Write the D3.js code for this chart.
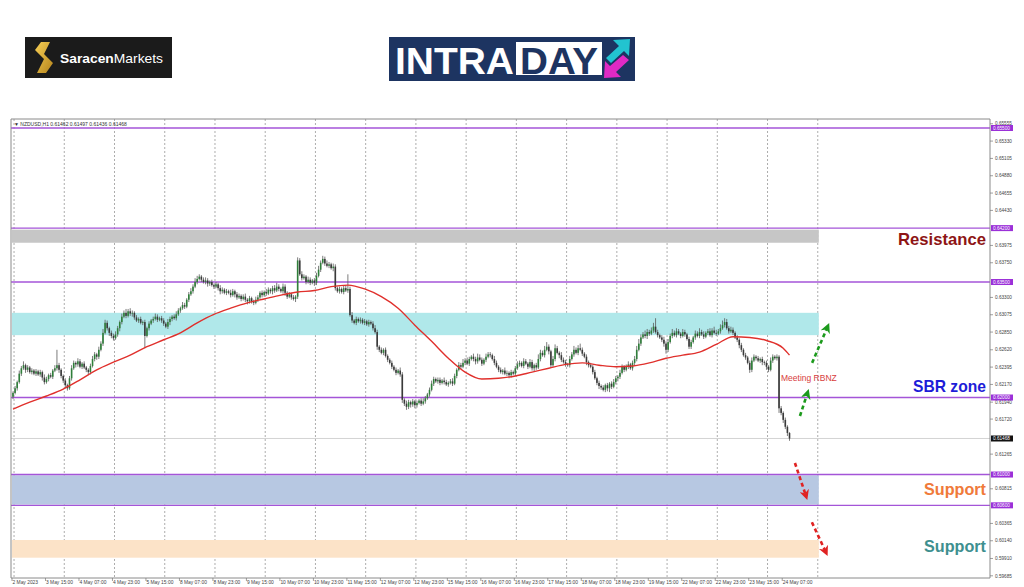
<!DOCTYPE html>
<head>
  <meta charset="utf-8">
  <script src="https://d3js.org/d3.v7.min.js"></script>
  <style>
    body { margin:0; background:#fff; }
    text { font-family: "Liberation Sans", Arial, sans-serif; }
  </style>
</head>
<body>
<svg width="1024" height="587"></svg>
<script>
// ---- data ----
var symbolInfo = "NZDUSD,H1  0.61462 0.61497 0.61436 0.61468";
var lastPrice = 0.61468;
var firstOpen = 0.6201;

var timeLabels = ["2 May 2023","3 May 15:00","4 May 07:00","4 May 23:00","5 May 15:00","8 May 07:00",
  "8 May 23:00","9 May 15:00","10 May 07:00","10 May 23:00","11 May 15:00","12 May 07:00",
  "12 May 23:00","15 May 15:00","16 May 07:00","16 May 23:00","17 May 15:00","18 May 07:00",
  "18 May 23:00","19 May 15:00","22 May 07:00","22 May 23:00","23 May 15:00","24 May 07:00"];

var priceTicks = [0.65555,0.65330,0.65105,0.64880,0.64655,0.64430,0.63975,0.63750,
  0.63300,0.63075,0.62850,0.62620,0.62395,0.62170,0.61940,0.61720,0.61265,
  0.60815,0.60365,0.60140,0.59910,0.59685];

var levels = [0.65500, 0.64200, 0.63500, 0.62000, 0.61000, 0.60600];

// hourly closes
var closes = [
  0.6206,0.6212,0.6220,0.6231,0.6238,0.6242,0.6236,0.6239,0.6233,0.6235,0.6231,0.6234,
  0.6230,0.6233,0.6226,0.6220,0.6224,0.6229,0.6227,0.6235,0.6238,0.6242,0.6236,0.6228,
  0.6222,0.6216,0.6212,0.6225,0.6238,0.6245,0.6243,0.6247,0.6240,0.6244,0.6239,0.6236,
  0.6233,0.6241,0.6250,0.6256,0.6253,0.6262,0.6270,0.6284,0.6297,0.6290,0.6284,0.6280,
  0.6277,0.6282,0.6290,0.6298,0.6305,0.6310,0.6306,0.6312,0.6309,0.6310,0.6304,0.6300,
  0.6302,0.6297,0.6298,0.6280,0.6290,0.6296,0.6300,0.6302,0.6305,0.6301,0.6303,0.6300,
  0.6296,0.6292,0.6298,0.6302,0.6305,0.6303,0.6308,0.6313,0.6316,0.6320,0.6318,0.6327,
  0.6334,0.6338,0.6344,0.6350,0.6354,0.6357,0.6353,0.6350,0.6352,0.6348,0.6350,0.6346,
  0.6344,0.6347,0.6342,0.6338,0.6340,0.6336,0.6338,0.6336,0.6333,0.6338,0.6334,0.6330,
  0.6332,0.6328,0.6331,0.6327,0.6325,0.6329,0.6324,0.6323,0.6327,0.6330,0.6336,0.6333,
  0.6337,0.6335,0.6340,0.6338,0.6342,0.6339,0.6344,0.6341,0.6338,0.6344,0.6336,0.6331,
  0.6334,0.6330,0.6328,0.6331,0.6378,0.6360,0.6355,0.6357,0.6350,0.6353,0.6349,0.6352,
  0.6349,0.6358,0.6366,0.6375,0.6380,0.6374,0.6371,0.6373,0.6368,0.6370,0.6342,0.6338,
  0.6341,0.6337,0.6342,0.6339,0.6341,0.6307,0.6300,0.6297,0.6302,0.6299,0.6301,0.6297,
  0.6299,0.6295,0.6298,0.6296,0.6290,0.6285,0.6266,0.6262,0.6258,0.6262,0.6254,0.6249,
  0.6245,0.6240,0.6236,0.6232,0.6235,0.6230,0.6197,0.6192,0.6188,0.6194,0.6191,0.6195,
  0.6190,0.6193,0.6196,0.6192,0.6195,0.6199,0.6204,0.6210,0.6218,0.6224,0.6221,0.6223,
  0.6219,0.6222,0.6220,0.6217,0.6219,0.6221,0.6218,0.6228,0.6236,0.6242,0.6240,0.6245,
  0.6248,0.6244,0.6250,0.6253,0.6250,0.6247,0.6252,0.6249,0.6244,0.6249,0.6253,0.6256,
  0.6255,0.6250,0.6245,0.6240,0.6236,0.6233,0.6235,0.6231,0.6232,0.6229,0.6233,0.6231,
  0.6238,0.6243,0.6245,0.6241,0.6247,0.6244,0.6240,0.6246,0.6238,0.6242,0.6239,0.6250,
  0.6258,0.6255,0.6262,0.6266,0.6260,0.6242,0.6250,0.6264,0.6258,0.6255,0.6249,0.6246,
  0.6243,0.6242,0.6250,0.6256,0.6262,0.6258,0.6264,0.6262,0.6257,0.6253,0.6246,0.6242,
  0.6240,0.6233,0.6225,0.6219,0.6215,0.6213,0.6210,0.6216,0.6212,0.6218,0.6214,0.6220,
  0.6225,0.6227,0.6232,0.6240,0.6236,0.6240,0.6243,0.6238,0.6245,0.6250,0.6262,0.6270,
  0.6278,0.6282,0.6280,0.6285,0.6283,0.6287,0.6292,0.6285,0.6281,0.6278,0.6275,0.6270,
  0.6262,0.6272,0.6280,0.6284,0.6281,0.6286,0.6283,0.6280,0.6285,0.6282,0.6276,0.6266,
  0.6272,0.6278,0.6283,0.6280,0.6285,0.6282,0.6279,0.6284,0.6286,0.6281,0.6287,0.6284,
  0.6283,0.6286,0.6290,0.6294,0.6298,0.6290,0.6286,0.6288,0.6284,0.6278,0.6275,0.6268,
  0.6262,0.6255,0.6252,0.6245,0.6236,0.6248,0.6253,0.6251,0.6248,0.6250,0.6246,0.6245,
  0.6240,0.6236,0.6248,0.6253,0.6251,0.6253,0.6186,0.6180,0.6171,0.6162,0.6154,0.61468
];

// upper / lower shadow length in pips
var wickUp = [
  2,3,2,4,3,5,2,3,2,3,2,3, 2,3,2,4,3,2,3,2,4,20,3,2, 2,3,2,3,4,3,2,4,3,2,3,2,
  2,3,4,3,2,4,3,5,4,3,2,3, 3,4,3,2,4,3,5,3,4,3,2,3, 2,3,2,3,2,3,2,3,4,3,2,3,
  3,2,4,3,2,3,4,3,2,4,3,2, 3,4,3,5,4,3,2,3,4,3,2,3, 2,3,2,4,3,2,3,2,4,3,2,3,
  3,2,3,4,2,3,2,3,4,3,2,3, 2,4,3,2,3,4,5,3,2,4,3,2, 3,2,3,2,4,3,4,3,2,4,3,2,
  3,4,5,3,4,3,4,3,2,4,3,2, 3,2,3,4,19,3,4,2,3,2,3,2, 3,2,3,2,3,4,3,2,3,2,3,2,
  2,3,2,3,2,4,3,2,4,3,2,3, 2,3,2,3,4,3,2,3,4,3,2,3, 3,2,4,3,2,3,4,3,2,4,3,5,
  3,4,3,2,4,3,5,4,3,2,4,3, 3,2,4,3,2,3,2,4,3,2,3,2, 3,4,3,2,4,3,2,4,3,2,3,6,
  4,3,5,6,3,2,4,5,3,2,4,3, 3,2,4,3,5,3,4,6,3,2,3,2, 3,2,3,2,3,2,3,2,3,2,3,4,
  3,2,4,3,2,3,4,2,3,4,5,6, 4,3,5,4,3,4,5,11,3,2,3,4, 3,4,3,5,3,4,3,2,4,3,2,3,
  3,2,4,3,5,3,4,2,3,4,3,5, 4,3,5,6,5,4,3,4,3,2,3,2, 3,2,3,2,3,4,3,2,3,2,3,2,
  3,2,4,3,2,3,2,3,2,3,2,1
];
var wickDn = [
  3,2,3,2,3,2,4,3,2,3,2,3, 2,3,4,3,2,3,2,3,2,3,4,3, 3,4,3,2,3,2,4,3,2,3,2,3,
  4,3,2,3,4,3,2,3,2,3,4,3, 3,2,3,4,3,2,3,2,3,4,3,2, 3,2,3,16,2,3,2,3,2,3,2,3,
  3,2,3,4,3,2,3,2,3,2,3,2, 3,2,3,2,3,2,3,2,3,4,3,2, 3,2,3,4,3,2,3,2,3,2,4,3,
  2,3,2,3,4,3,2,3,2,3,2,3, 2,3,2,3,4,3,2,3,2,3,4,3, 2,3,2,4,3,2,3,2,3,2,3,2,
  4,3,2,3,2,3,2,3,2,4,3,2, 3,2,3,2,3,2,3,2,3,2,3,2, 3,2,3,2,3,2,4,3,2,3,2,3,
  2,3,2,3,2,3,4,3,4,3,4,3, 4,3,2,3,2,3,2,3,2,3,2,3, 3,2,3,2,3,2,3,2,3,2,3,2,
  3,2,3,2,3,4,3,2,3,2,3,2, 3,2,3,2,3,2,3,2,3,4,3,2, 3,2,3,2,3,2,3,2,3,4,3,2,
  3,2,3,2,4,3,2,3,2,4,3,2, 3,2,3,2,3,2,3,2,3,2,4,3, 2,3,2,3,4,3,2,3,4,5,3,2,
  3,4,3,2,3,2,3,2,3,4,3,2, 3,2,3,4,3,2,3,2,3,2,3,4, 5,3,2,3,2,3,2,3,2,3,2,3,
  3,2,3,2,3,2,3,2,3,2,3,2, 3,2,3,2,3,2,3,2,3,2,3,4, 3,2,3,2,4,3,2,3,2,3,4,3,
  4,3,2,3,2,3,6,3,4,3,4,3
];

// moving average (read every 8 bars)
var maBars = [0,8,16,24,32,40,48,56,64,72,80,88,96,104,112,120,128,136,144,152,160,168,176,184,
  192,200,208,216,224,232,240,248,256,264,272,280,288,296,304,312,320,328,336,344,352,360,368,371];
var maValues = [0.6185,0.6194,0.6202,0.6211,0.6223,0.6236,0.6246,0.6255,0.6266,0.6275,0.6284,0.6297,
  0.6308,0.6316,0.6323,0.6328,0.6333,0.6337,0.6339,0.6344,0.6346,0.6341,0.6331,0.6316,
  0.6294,0.6273,0.6251,0.6233,0.6224,0.6225,0.6228,0.6233,0.6238,0.6243,0.6245,0.6242,
  0.6240,0.6241,0.6245,0.6251,0.6255,0.6259,0.6269,0.6279,0.6278,0.6274,0.6264,0.6255];

// shaded zones: [top, bottom, colour]
var zones = [
  [0.6418, 0.6401, "#c6c6c6"],
  [0.6310, 0.6281, "#b0e8ea"],
  [0.6099, 0.6061, "#b7c8e2"],
  [0.6015, 0.5992, "#fce3c8"]
];
var zoneEnd = 385;

// zone labels: [text, colour, baseline, width]
var notes = [
  ["Resistance", "#8e1515", 245, 88],
  ["SBR zone", "#1d1dd8", 392, 73],
  ["Support", "#f07a3a", 495, 62],
  ["Support", "#3e8f8f", 552, 62]
];

// dashed arrows [barFrom, priceFrom, barTo, priceTo, colour]
var arrows = [
  [376.0, 0.6176, 379.6, 0.6206, "#1c9a1c"],
  [381.8, 0.6245, 389.2, 0.6292, "#1c9a1c"],
  [373.6, 0.6115, 378.9, 0.6072, "#e02222"],
  [381.7, 0.6038, 388.4, 0.5999, "#e02222"]
];

// ---- drawing ----
var svg = d3.select("svg");
var leftX = 11, rightX = 990, topY = 119, bottomY = 578;
var barW = 2.093;

var x = d3.scaleLinear().domain([0, 372]).range([13, 13 + 372 * barW]);
var y = d3.scaleLinear().domain([0.59685, 0.655]).range([575.8, 128]);

var defs = svg.append("defs");
["#1c9a1c", "#e02222"].forEach(function(c, k) {
  defs.append("marker")
    .attr("id", "ah" + k)
    .attr("viewBox", "0 0 10 10")
    .attr("refX", 6).attr("refY", 5)
    .attr("markerWidth", 10).attr("markerHeight", 10)
    .attr("markerUnits", "userSpaceOnUse")
    .attr("orient", "auto")
    .append("path")
    .attr("d", "M0,0 L10,5 L0,10 L3,5 Z")
    .attr("fill", c);
});
var gold = defs.append("linearGradient").attr("id", "gold")
  .attr("x1", 0).attr("y1", 0).attr("x2", 1).attr("y2", 1);
gold.append("stop").attr("offset", "0%").attr("stop-color", "#f7cf55");
gold.append("stop").attr("offset", "100%").attr("stop-color", "#b5841c");

// logos
var logo = svg.append("g");
logo.append("rect").attr("x", 25).attr("y", 37).attr("width", 147).attr("height", 41).attr("fill", "#1b1b1b");
logo.append("path")
  .attr("d", "M50,42 L41,42 L35,50 L44,59 L37,73 L46,73 L53,63 L44,54 Z")
  .attr("fill", "url(#gold)");
var st = logo.append("text").attr("x", 60).attr("y", 62.5)
  .attr("font-size", 13.5).attr("fill", "#fff")
  .attr("textLength", 103).attr("lengthAdjust", "spacingAndGlyphs");
st.append("tspan").attr("font-weight", "bold").text("Saracen");
st.append("tspan").text("Markets");

var intra = svg.append("g");
intra.append("rect").attr("x", 389).attr("y", 37).attr("width", 246).attr("height", 44).attr("fill", "#1d3461");
intra.append("text").attr("x", 395).attr("y", 73.5)
  .attr("font-size", 37).attr("font-weight", "bold").attr("fill", "#fff")
  .attr("textLength", 119).attr("lengthAdjust", "spacingAndGlyphs").text("INTRA");
intra.append("rect").attr("x", 516).attr("y", 42).attr("width", 86).attr("height", 33).attr("fill", "#fff");
intra.append("text").attr("x", 520).attr("y", 73.5)
  .attr("font-size", 37).attr("font-weight", "bold").attr("fill", "#1d3461")
  .attr("textLength", 78).attr("lengthAdjust", "spacingAndGlyphs").text("DAY");
intra.append("polygon").attr("points", "630,39 629,56 624,51 611,63 606,58 619,46 613,40").attr("fill", "#22c3d0");
intra.append("polygon").attr("points", "604,78 605,61 610,66 623,55 629,60 616,72 621,77").attr("fill", "#e02ac4");

// vertical grid (one per day)
var grid = svg.append("g");
d3.range(0, 17).forEach(function(j) {
  grid.append("line")
    .attr("x1", x(24 * j + 0.5)).attr("x2", x(24 * j + 0.5))
    .attr("y1", topY).attr("y2", bottomY)
    .attr("stroke", "#8a8a8a").attr("stroke-width", 0.7)
    .attr("stroke-dasharray", "2,2");
});

// zones
svg.append("g").selectAll("rect").data(zones).join("rect")
  .attr("x", leftX + 1).attr("width", x(zoneEnd) - leftX - 1)
  .attr("y", function(d) { return y(d[0]); })
  .attr("height", function(d) { return y(d[1]) - y(d[0]); })
  .attr("fill", function(d) { return d[2]; });

// last price line
svg.append("line").attr("x1", leftX).attr("x2", rightX)
  .attr("y1", y(lastPrice)).attr("y2", y(lastPrice))
  .attr("stroke", "#c8c8c8").attr("stroke-width", 0.8);

// horizontal levels
svg.append("g").selectAll("line").data(levels).join("line")
  .attr("x1", leftX).attr("x2", rightX)
  .attr("y1", function(d) { return y(d); }).attr("y2", function(d) { return y(d); })
  .attr("stroke", "#a455d8").attr("stroke-width", 1.4);

// candles
var bars = closes.map(function(c, i) {
  var o = i === 0 ? firstOpen : closes[i - 1];
  return { i: i, o: o, c: c,
    h: Math.max(o, c) + wickUp[i] / 10000,
    l: Math.min(o, c) - wickDn[i] / 10000 };
});
var cg = svg.append("g");
cg.selectAll("line").data(bars).join("line")
  .attr("x1", function(d) { return x(d.i); }).attr("x2", function(d) { return x(d.i); })
  .attr("y1", function(d) { return y(d.h); }).attr("y2", function(d) { return y(d.l); })
  .attr("stroke", "#5a5a5a").attr("stroke-width", 0.8);
cg.selectAll("rect").data(bars).join("rect")
  .attr("x", function(d) { return x(d.i) - 0.8; })
  .attr("width", 1.6)
  .attr("y", function(d) { return y(Math.max(d.o, d.c)); })
  .attr("height", function(d) { return Math.max(0.8, Math.abs(y(d.o) - y(d.c))); })
  .attr("fill", function(d) { return d.c >= d.o ? "#2f7f3a" : "#3a3a3a"; });

// moving average
var maLine = d3.line()
  .x(function(d, k) { return x(maBars[k]); })
  .y(function(d) { return y(d); })
  .curve(d3.curveMonotoneX);
svg.append("path").attr("d", maLine(maValues))
  .attr("fill", "none").attr("stroke", "#e0302c").attr("stroke-width", 1.4);

// meeting text
svg.append("text").attr("x", 781).attr("y", 381)
  .attr("font-size", 8.5).attr("fill", "#d83c3c").text("Meeting RBNZ");

// arrows
svg.append("g").selectAll("line").data(arrows).join("line")
  .attr("x1", function(d) { return x(d[0]); }).attr("y1", function(d) { return y(d[1]); })
  .attr("x2", function(d) { return x(d[2]); }).attr("y2", function(d) { return y(d[3]); })
  .attr("stroke", function(d) { return d[4]; })
  .attr("stroke-width", 2.6).attr("stroke-dasharray", "4,3")
  .attr("marker-end", function(d) { return d[4] === "#1c9a1c" ? "url(#ah0)" : "url(#ah1)"; });

// frame
var frame = svg.append("g").attr("stroke", "#8a8a8a").attr("stroke-width", 1);
frame.append("line").attr("x1", leftX).attr("x2", rightX).attr("y1", topY).attr("y2", topY);
frame.append("line").attr("x1", leftX).attr("x2", leftX).attr("y1", topY).attr("y2", bottomY);
frame.append("line").attr("x1", leftX).attr("x2", rightX).attr("y1", bottomY).attr("y2", bottomY);
frame.append("line").attr("x1", rightX).attr("x2", rightX).attr("y1", topY).attr("y2", bottomY);

// header
svg.append("text").attr("x", 14).attr("y", 125.5).attr("font-size", 5).attr("fill", "#333")
  .text("\u25BC " + symbolInfo);

// price axis
var pa = svg.append("g");
pa.selectAll("line").data(priceTicks).join("line")
  .attr("x1", rightX).attr("x2", rightX + 3)
  .attr("y1", function(d) { return y(d); }).attr("y2", function(d) { return y(d); })
  .attr("stroke", "#777").attr("stroke-width", 0.7);
pa.selectAll("text").data(priceTicks).join("text")
  .attr("x", rightX + 5).attr("y", function(d) { return y(d) + 1.7; })
  .attr("font-size", 4.7).attr("fill", "#444")
  .text(function(d) { return d.toFixed(5); });

// level tags
var tags = levels.map(function(v) { return [v, "#9b30d8", "#fff"]; }).concat([[lastPrice, "#111", "#fff"]]);
var tg = svg.append("g").selectAll("g").data(tags).join("g");
tg.append("rect").attr("x", rightX + 1).attr("width", 22)
  .attr("y", function(d) { return y(d[0]) - 3; }).attr("height", 6)
  .attr("fill", function(d) { return d[1]; });
tg.append("text").attr("x", rightX + 3).attr("y", function(d) { return y(d[0]) + 1.7; })
  .attr("font-size", 4.7).attr("fill", function(d) { return d[2]; })
  .text(function(d) { return d[0].toFixed(5); });

// time axis
var ta = svg.append("g");
ta.selectAll("line").data(timeLabels).join("line")
  .attr("x1", function(d, k) { return x(16 * k) - 1; }).attr("x2", function(d, k) { return x(16 * k) - 1; })
  .attr("y1", bottomY).attr("y2", bottomY + 3)
  .attr("stroke", "#777").attr("stroke-width", 0.7);
ta.selectAll("text").data(timeLabels).join("text")
  .attr("x", function(d, k) { return x(16 * k) - 0.5; }).attr("y", 584)
  .attr("font-size", 4.9).attr("fill", "#444")
  .text(function(d) { return d; });

// zone labels
svg.append("g").selectAll("text").data(notes).join("text")
  .attr("x", 986).attr("y", function(d) { return d[2]; })
  .attr("text-anchor", "end")
  .attr("font-family", "'DejaVu Sans Condensed', 'DejaVu Sans', sans-serif")
  .attr("font-weight", "bold").attr("font-size", 17)
  .attr("fill", function(d) { return d[1]; })
  .attr("textLength", function(d) { return d[3]; })
  .attr("lengthAdjust", "spacingAndGlyphs")
  .text(function(d) { return d[0]; });
</script>
</body>
